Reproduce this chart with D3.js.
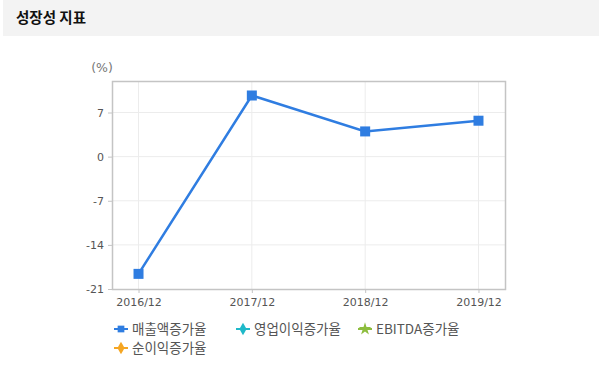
<!DOCTYPE html>
<html>
<head>
<meta charset="utf-8">
<script src="https://cdn.jsdelivr.net/npm/d3@7"></script>
<style>
  body { margin: 0; background: #fff; }
  svg { display: block; }
</style>
</head>
<body>
<svg id="chart"></svg>
<script>
// data
const periods = ["2016/12", "2017/12", "2018/12", "2019/12"];
const salesGrowth = [-18.6, 9.7, 4.0, 5.7]; // 매출액증가율
const yTicks = [-21, -14, -7, 0, 7];
const legendItems = [
  { name: "매출액증가율", color: "#2f7de1", symbol: "square" },
  { name: "영업이익증가율", color: "#1fb9c9", symbol: "diamond" },
  { name: "EBITDA증가율", color: "#8dbd3e", symbol: "star" },
  { name: "순이익증가율", color: "#f5a623", symbol: "cross" }
];

const width = 599, height = 374;
const plot = { left: 112, top: 81, right: 505, bottom: 289 };

const svg = d3.select("#chart").attr("width", width).attr("height", height);

// header band
svg.append("rect").attr("x", 3).attr("y", 0).attr("width", width - 3).attr("height", 36).attr("fill", "#f3f3f3");
svg.append("text")
  .attr("x", 16).attr("y", 23)
  .attr("font-family", "'Noto Sans CJK KR', sans-serif")
  .attr("font-size", 14.5).attr("font-weight", "bold").attr("fill", "#111")
  .text("성장성 지표");

// scales
const x = d3.scalePoint().domain(periods).range([plot.left, plot.right]).padding(0.234);
const y = d3.scaleLinear().domain([-21, 12]).range([plot.bottom, plot.top]);

const g = svg.append("g");

// grid
g.selectAll(".hgrid").data(yTicks.slice(1)).join("line")
  .attr("x1", plot.left).attr("x2", plot.right)
  .attr("y1", d => y(d)).attr("y2", d => y(d))
  .attr("stroke", "#ececec");
g.selectAll(".vgrid").data(periods).join("line")
  .attr("x1", d => x(d)).attr("x2", d => x(d))
  .attr("y1", plot.top).attr("y2", plot.bottom)
  .attr("stroke", "#ececec");

// frame
g.append("rect")
  .attr("x", plot.left + 0.5).attr("y", plot.top + 0.5)
  .attr("width", plot.right - plot.left).attr("height", plot.bottom - plot.top)
  .attr("fill", "none").attr("stroke", "#c4c4c4").attr("stroke-width", 1.5);

// axes
const yAxis = d3.axisLeft(y).tickValues(yTicks).tickFormat(d => String(d)).tickSize(4).tickPadding(4);
g.append("g").attr("transform", `translate(${plot.left},0)`).call(yAxis)
  .call(a => a.select(".domain").remove())
  .call(a => a.selectAll(".tick line").attr("stroke", "#c4c4c4"))
  .call(a => a.selectAll("text").attr("fill", "#555").attr("font-size", 11)
    .attr("font-family", "'DejaVu Sans', sans-serif"));

const xAxis = d3.axisBottom(x).tickSize(4).tickPadding(5);
g.append("g").attr("transform", `translate(0,${plot.bottom})`).call(xAxis)
  .call(a => a.select(".domain").remove())
  .call(a => a.selectAll(".tick line").attr("stroke", "#c4c4c4"))
  .call(a => a.selectAll("text").attr("fill", "#555").attr("font-size", 11)
    .attr("font-family", "'DejaVu Sans', sans-serif"));

svg.append("text")
  .attr("x", 102).attr("y", 72).attr("text-anchor", "middle")
  .attr("fill", "#777").attr("font-size", 12.5)
  .attr("font-family", "'DejaVu Sans', sans-serif")
  .text("(%)");

// line
const line = d3.line().x((d, i) => x(periods[i])).y(d => y(d));
g.append("path").datum(salesGrowth).attr("d", line)
  .attr("fill", "none").attr("stroke", "#2f7de1").attr("stroke-width", 2.5);

g.selectAll(".pt").data(salesGrowth).join("rect")
  .attr("x", (d, i) => x(periods[i]) - 5).attr("y", d => y(d) - 5)
  .attr("width", 10).attr("height", 10).attr("fill", "#2f7de1");

// legend
const symbolTypes = { square: d3.symbolSquare, diamond: d3.symbolDiamond, star: d3.symbolStar, cross: d3.symbolDiamond };
const legendPos = [[114, 329], [236, 329], [358, 329], [114, 348]];
const leg = svg.selectAll(".leg").data(legendItems).join("g")
  .attr("transform", (d, i) => `translate(${legendPos[i][0]},${legendPos[i][1]})`);
leg.append("line").attr("x1", 0).attr("x2", 14).attr("y1", 0).attr("y2", 0)
  .attr("stroke", d => d.color).attr("stroke-width", 2);
leg.append("path").attr("transform", "translate(7,0)")
  .attr("d", d => d3.symbol().type(symbolTypes[d.symbol]).size(d.symbol === "star" ? 50 : 45)())
  .attr("fill", d => d.color);
leg.append("text").attr("x", 18).attr("y", 5)
  .attr("font-family", "'Noto Sans CJK KR', sans-serif").attr("font-size", 13.5)
  .attr("fill", "#555").text(d => d.name);
</script>
</body>
</html>
